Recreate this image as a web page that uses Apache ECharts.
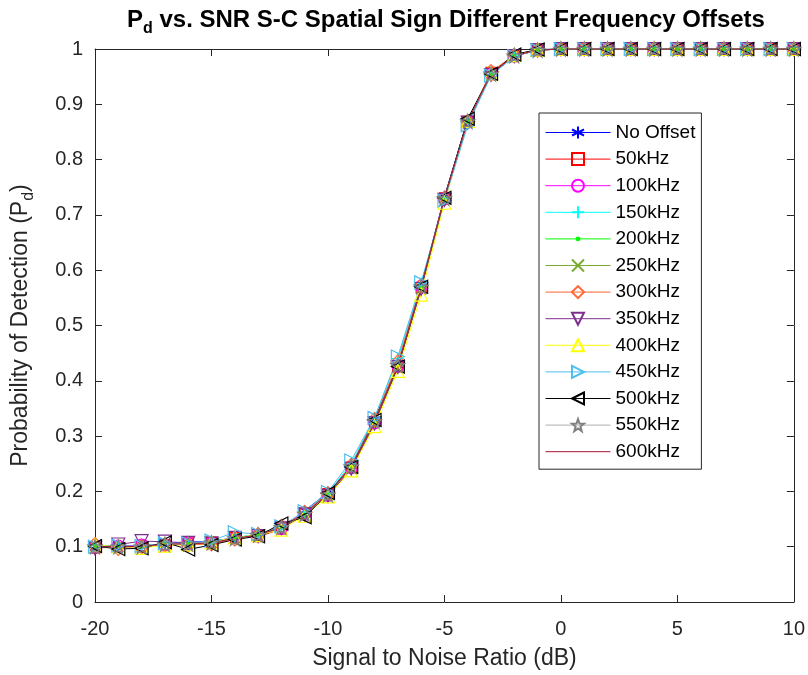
<!DOCTYPE html>
<html>
<head>
<meta charset="utf-8">
<title>Pd vs. SNR</title>
<script src="https://cdn.jsdelivr.net/npm/echarts@6/dist/echarts.min.js"></script>
<style>
  html, body { margin: 0; padding: 0; background: #fff; }
  #chart { width: 808px; height: 675px; }
</style>
</head>
<body>
<div id="chart"></div>
<script>
// SNR grid in dB
const snr = [-20,-19,-18,-17,-16,-15,-14,-13,-12,-11,-10,-9,-8,-7,-6,-5,-4,-3,-2,-1,0,1,2,3,4,5,6,7,8,9,10];

// Detection probability per frequency offset (SNR -20 .. 10 dB)
const pdNoOffset = [0.100,0.103,0.100,0.106,0.108,0.110,0.116,0.122,0.134,0.165,0.198,0.246,0.330,0.428,0.572,0.733,0.872,0.955,0.989,0.999,1,1,1,1,1,1,1,1,1,1,1];
const pd50  = [0.098,0.099,0.101,0.104,0.107,0.108,0.117,0.118,0.132,0.161,0.196,0.244,0.326,0.425,0.568,0.731,0.869,0.958,0.988,0.998,1,1,1,1,1,1,1,1,1,1,1];
const pd100 = [0.099,0.101,0.103,0.103,0.106,0.106,0.114,0.120,0.133,0.159,0.193,0.243,0.324,0.427,0.571,0.729,0.868,0.954,0.987,0.998,1,1,1,1,1,1,1,1,1,1,1];
const pd150 = [0.102,0.102,0.099,0.105,0.104,0.109,0.116,0.123,0.136,0.162,0.197,0.250,0.333,0.440,0.576,0.728,0.866,0.953,0.988,0.999,1,1,1,1,1,1,1,1,1,1,1];
const pd200 = [0.101,0.100,0.100,0.104,0.105,0.107,0.115,0.121,0.134,0.158,0.194,0.244,0.326,0.426,0.569,0.729,0.870,0.955,0.988,0.998,1,1,1,1,1,1,1,1,1,1,1];
const pd250 = [0.100,0.098,0.102,0.105,0.103,0.106,0.113,0.120,0.135,0.157,0.192,0.240,0.322,0.424,0.566,0.727,0.868,0.954,0.987,0.998,1,1,1,1,1,1,1,1,1,1,1];
const pd300 = [0.104,0.097,0.100,0.104,0.104,0.105,0.114,0.122,0.137,0.162,0.196,0.247,0.330,0.434,0.572,0.730,0.869,0.959,0.989,0.998,1,1,1,1,1,1,1,1,1,1,1];
const pd350 = [0.097,0.104,0.110,0.109,0.107,0.106,0.116,0.119,0.133,0.158,0.192,0.241,0.323,0.425,0.566,0.727,0.867,0.953,0.987,0.998,1,1,1,1,1,1,1,1,1,1,1];
const pd400 = [0.103,0.101,0.098,0.102,0.104,0.108,0.117,0.121,0.131,0.156,0.191,0.238,0.318,0.418,0.556,0.722,0.870,0.956,0.989,0.999,1,1,1,1,1,1,1,1,1,1,1];
const pd450 = [0.100,0.102,0.101,0.106,0.106,0.111,0.126,0.123,0.137,0.164,0.199,0.256,0.333,0.444,0.578,0.726,0.862,0.952,0.987,0.998,1,1,1,1,1,1,1,1,1,1,1];
const pd500 = [0.101,0.096,0.097,0.108,0.095,0.103,0.113,0.119,0.142,0.153,0.197,0.244,0.329,0.426,0.570,0.731,0.874,0.955,0.990,0.999,1,1,1,1,1,1,1,1,1,1,1];
const pd550 = [0.100,0.100,0.100,0.104,0.105,0.107,0.115,0.121,0.135,0.159,0.194,0.245,0.327,0.428,0.570,0.730,0.869,0.955,0.988,0.998,1,1,1,1,1,1,1,1,1,1,1];
const pd600 = [0.100,0.101,0.100,0.105,0.105,0.107,0.115,0.121,0.135,0.160,0.195,0.245,0.326,0.428,0.570,0.730,0.870,0.955,0.988,0.998,1,1,1,1,1,1,1,1,1,1,1];

const seriesNames = ['No Offset','50kHz','100kHz','150kHz','200kHz','250kHz','300kHz','350kHz','400kHz','450kHz','500kHz','550kHz','600kHz'];
const seriesValues = [pdNoOffset,pd50,pd100,pd150,pd200,pd250,pd300,pd350,pd400,pd450,pd500,pd550,pd600];

// Marker shapes (outlined, unfilled)
const M = {
  asterisk: 'path://M5,0L5,10M0.67,2.5L9.33,7.5M0.67,7.5L9.33,2.5',
  square: 'path://M0,0L10,0L10,10L0,10Z',
  circle: 'path://M10,5A5,5,0,1,1,0,5A5,5,0,1,1,10,5Z',
  plus: 'path://M5,0L5,10M0,5L10,5',
  // small filled dot inside an empty 10x10 frame
  dot: 'path://M0,0L0.01,0M9.99,10L10,10M3,5A2,2,0,1,1,7,5A2,2,0,1,1,3,5Z',
  cross: 'path://M0,0L10,10M0,10L10,0',
  diamond: 'path://M5,0L10,5L5,10L0,5Z',
  triDown: 'path://M0,0L10,0L5,10Z',
  triUp: 'path://M5,0L10,10L0,10Z',
  triRight: 'path://M0,0L10,5L0,10Z',
  triLeft: 'path://M10,0L0,5L10,10Z',
  star: 'path://M5,0L6.18,3.38L9.76,3.45L6.9,5.62L7.94,9.05L5,7L2.06,9.05L3.1,5.62L0.24,3.45L3.82,3.38Z'
};

const styles = [
  { line: '#0000ff', mark: '#0000ff', symbol: M.asterisk, size: 11 },
  { line: '#ff0000', mark: '#ff0000', symbol: M.square, size: 10 },
  { line: '#ff00ff', mark: '#ff00ff', symbol: M.circle, size: 12 },
  { line: '#00ffff', mark: '#00ffff', symbol: M.plus, size: 12 },
  { line: '#00ff00', mark: '#00ff00', symbol: M.dot, size: 10, filled: true },
  { line: '#77ac30', mark: '#77ac30', symbol: M.cross, size: 9 },
  { line: '#ff6633', mark: '#ff6633', symbol: M.diamond, size: 14 },
  { line: '#7e2f8e', mark: '#7e2f8e', symbol: M.triDown, size: 13 },
  { line: '#ffff00', mark: '#ffff00', symbol: M.triUp, size: 13 },
  { line: '#4dbeee', mark: '#4dbeee', symbol: M.triRight, size: 13 },
  { line: '#000000', mark: '#000000', symbol: M.triLeft, size: 13 },
  { line: '#b0b0b0', mark: '#808080', symbol: M.star, size: 14 },
  { line: '#a2142f', mark: null, symbol: 'circle', size: 1 }
];

const series = seriesNames.map((name, i) => {
  const s = styles[i];
  const noMark = s.mark === null;
  return {
    name: name,
    type: 'line',
    data: snr.map((x, k) => [x, seriesValues[i][k]]),
    symbol: s.symbol,
    symbolSize: s.size,
    showSymbol: !noMark,
    lineStyle: { color: s.line, width: 1 },
    itemStyle: noMark
      ? { color: 'rgba(0,0,0,0)', borderColor: 'rgba(0,0,0,0)', borderWidth: 0 }
      : {
          color: s.filled ? s.mark : 'rgba(0,0,0,0)',
          borderColor: s.mark,
          borderWidth: s.filled ? 0 : 1.2
        },
    emphasis: { disabled: true },
    animation: false,
    z: 2
  };
});

const axisColor = '#262626';
const font = 'Liberation Sans, Arial, Helvetica, sans-serif';

const chart = echarts.init(document.getElementById('chart'), null, { renderer: 'canvas' });
chart.setOption({
  backgroundColor: '#ffffff',
  animation: false,
  title: {
    text: '{b|P}{s|d}{b| vs. SNR S-C Spatial Sign Different Frequency Offsets}',
    left: 446,
    textAlign: 'center',
    top: 3,
    padding: 0,
    textStyle: {
      rich: {
        b: { fontFamily: font, fontSize: 24, fontWeight: 'bold', color: '#000', lineHeight: 34, verticalAlign: 'middle' },
        s: { fontFamily: font, fontSize: 16, fontWeight: 'bold', color: '#000', lineHeight: 34, verticalAlign: 'bottom' }
      }
    }
  },
  grid: { left: 95, right: 11, top: 49, bottom: 70, show: false },
  legend: {
    orient: 'vertical',
    left: 539,
    top: 113,
    data: seriesNames,
    itemWidth: 65,
    itemHeight: 15,
    itemGap: 7.6,
    padding: [10, 6, 8, 6],
    backgroundColor: '#ffffff',
    borderColor: '#262626',
    borderWidth: 1,
    borderRadius: 0,
    lineStyle: { width: 1 },
    textStyle: { fontFamily: font, fontSize: 19, color: '#000' },
    selectedMode: false,
    z: 10
  },
  xAxis: [{
    type: 'value',
    min: -20, max: 10, interval: 5,
    position: 'bottom',
    axisLine: { show: true, onZero: false, lineStyle: { color: axisColor, width: 1 } },
    axisTick: { show: true, inside: true, length: 7, lineStyle: { color: axisColor } },
    axisLabel: { fontFamily: font, fontSize: 20, color: axisColor, margin: 17 },
    splitLine: { show: false },
    name: 'Signal to Noise Ratio (dB)',
    nameLocation: 'middle',
    nameGap: 45,
    nameTextStyle: { fontFamily: font, fontSize: 23, color: axisColor }
  }, {
    type: 'value',
    min: -20, max: 10, interval: 5,
    position: 'top',
    axisLine: { show: true, onZero: false, lineStyle: { color: axisColor, width: 1 } },
    axisTick: { show: true, inside: true, length: 7, lineStyle: { color: axisColor } },
    axisLabel: { show: false },
    splitLine: { show: false }
  }],
  yAxis: [{
    type: 'value',
    min: 0, max: 1, interval: 0.1,
    position: 'left',
    axisLine: { show: true, onZero: false, lineStyle: { color: axisColor, width: 1 } },
    axisTick: { show: true, inside: true, length: 7, lineStyle: { color: axisColor } },
    axisLabel: { fontFamily: font, fontSize: 20, color: axisColor, margin: 12 },
    splitLine: { show: false },
    name: '{a|Probability of Detection (P}{s|d}{a|)}',
    nameLocation: 'middle',
    nameRotate: 90,
    nameGap: 58,
    nameTextStyle: {
      rich: {
        a: { fontFamily: font, fontSize: 23, color: axisColor, lineHeight: 32, verticalAlign: 'middle' },
        s: { fontFamily: font, fontSize: 16, color: axisColor, lineHeight: 32, verticalAlign: 'bottom' }
      }
    }
  }, {
    type: 'value',
    min: 0, max: 1, interval: 0.1,
    position: 'right',
    axisLine: { show: true, onZero: false, lineStyle: { color: axisColor, width: 1 } },
    axisTick: { show: true, inside: true, length: 7, lineStyle: { color: axisColor } },
    axisLabel: { show: false },
    splitLine: { show: false }
  }],
  series: series
});
</script>
</body>
</html>
